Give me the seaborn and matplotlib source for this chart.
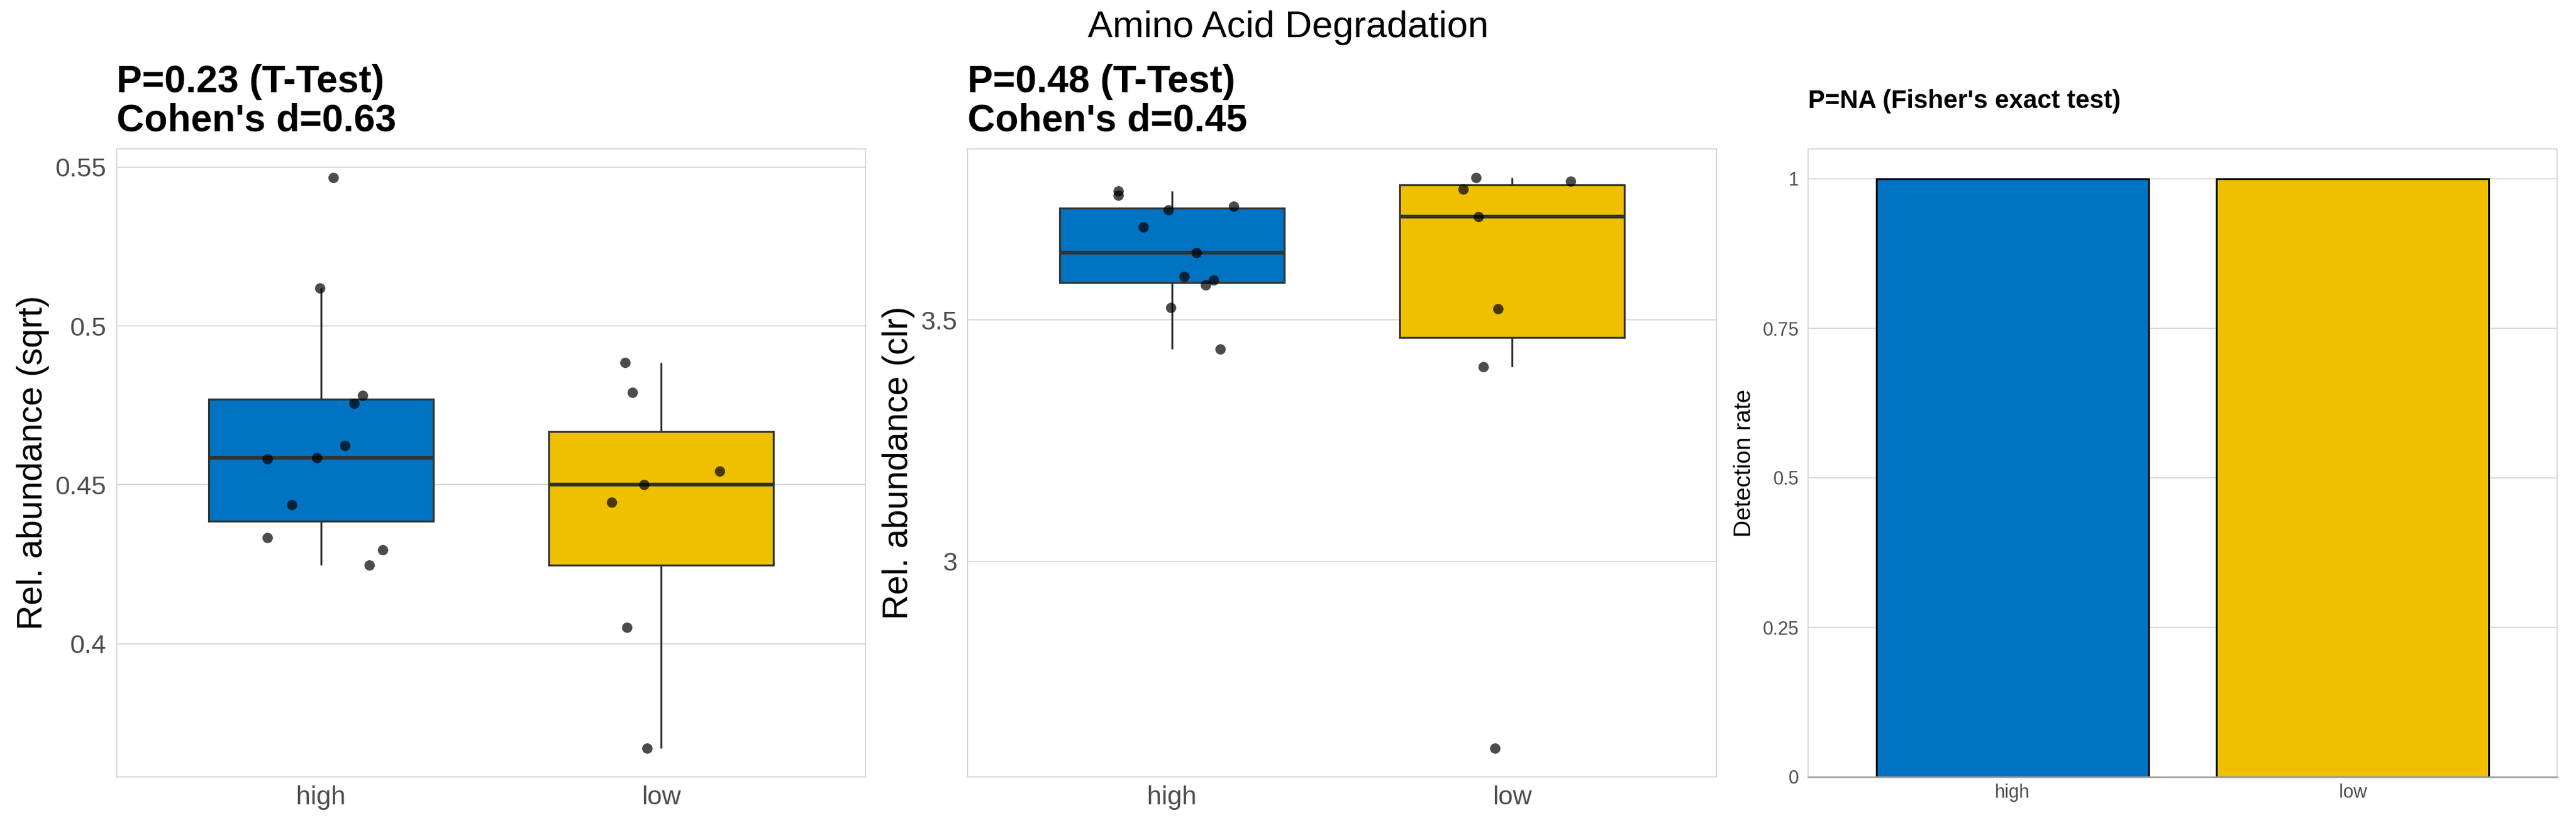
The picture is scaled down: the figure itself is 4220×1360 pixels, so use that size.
import matplotlib

matplotlib.use("Agg")
import matplotlib.pyplot as plt
import pandas as pd
import seaborn as sns


GROUPS = ["high", "low"]
GROUP_COLORS = ["#0073C2", "#EFC000"]

# per-sample values, with the jitter offset of each point
HIGH_SQRT = [0.5467, 0.5120, 0.4782, 0.4756, 0.4623, 0.4586, 0.4581, 0.4437, 0.4334, 0.4296, 0.4247]
HIGH_SQRT_JITTER = [0.036, -0.003, 0.123, 0.098, 0.071, -0.012, -0.158, -0.086, -0.158, 0.181, 0.143]
LOW_SQRT = [0.4884, 0.4791, 0.4543, 0.4500, 0.4445, 0.4051, 0.3671]
LOW_SQRT_JITTER = [-0.106, -0.085, 0.171, -0.051, -0.146, -0.101, -0.041]

HIGH_CLR = [3.767, 3.758, 3.7276, 3.7363, 3.6926, 3.640, 3.5897, 3.5821, 3.5722, 3.5252, 3.4398]
HIGH_CLR_JITTER = [-0.157, -0.157, -0.011, 0.181, -0.083, 0.072, 0.037, 0.122, 0.099, -0.003, 0.142]
LOW_CLR = [3.7954, 3.7878, 3.7713, 3.7144, 3.523, 3.4037, 2.6127]
LOW_CLR_JITTER = [-0.106, 0.171, -0.144, -0.099, -0.042, -0.085, -0.050]

DETECTION_RATE = [1.0, 1.0]

SUPTITLE = "Amino Acid Degradation"
TITLES = [
    "P=0.23 (T-Test)\nCohen's d=0.63",
    "P=0.48 (T-Test)\nCohen's d=0.45",
    "P=NA (Fisher's exact test)",
]
YLABELS = ["Rel. abundance (sqrt)", "Rel. abundance (clr)", "Detection rate"]

SQRT_TICKS = [0.4, 0.45, 0.5, 0.55]
SQRT_TICK_LABELS = ["0.4", "0.45", "0.5", "0.55"]
CLR_TICKS = [3.0, 3.5]
CLR_TICK_LABELS = ["3", "3.5"]
RATE_TICKS = [0, 0.25, 0.5, 0.75, 1]
RATE_TICK_LABELS = ["0", "0.25", "0.5", "0.75", "1"]

FIG_W, FIG_H = 4220, 1360
BORDER = "#D6D6D6"
TICK_GREY = "#4D4D4D"


def make_frame(high, high_jitter, low, low_jitter):
    df = pd.DataFrame(
        {
            "group": ["high"] * len(high) + ["low"] * len(low),
            "value": high + low,
            "jitter": high_jitter + low_jitter,
        }
    )
    df["xpos"] = df["group"].map({g: i for i, g in enumerate(GROUPS)}) + df["jitter"]
    return df


def style_axes(ax, ylabel, label_size, tick_size, pad_y, pad_x, labelpad):
    for spine in ax.spines.values():
        spine.set_visible(True)
        spine.set_color(BORDER)
        spine.set_linewidth(1.3)
    ax.grid(axis="y", color=BORDER, linewidth=1.3)
    ax.grid(axis="x", visible=False)
    ax.set_axisbelow(True)
    ax.tick_params(axis="both", length=0, labelsize=tick_size, colors=TICK_GREY)
    ax.tick_params(axis="y", pad=pad_y)
    ax.tick_params(axis="x", pad=pad_x)
    ax.set_xlabel("")
    ax.set_ylabel(ylabel, fontsize=label_size, color="black", labelpad=labelpad)
    ax.set_xlim(-0.6, 1.6)


def box_panel(ax, df, title, ylabel, ticks, tick_labels):
    sns.boxplot(
        data=df,
        x="group",
        y="value",
        hue="group",
        order=GROUPS,
        hue_order=GROUPS,
        palette=GROUP_COLORS,
        saturation=1,
        width=0.66,
        showfliers=False,
        linecolor="#333333",
        linewidth=2.3,
        medianprops={"linewidth": 4.4},
        capprops={"visible": False},
        legend=False,
        ax=ax,
    )
    sns.scatterplot(
        data=df,
        x="xpos",
        y="value",
        color="black",
        alpha=0.7,
        s=150,
        linewidth=0,
        zorder=4,
        legend=False,
        ax=ax,
    )
    lo, hi = df["value"].min(), df["value"].max()
    pad = 0.05 * (hi - lo)
    ax.set_ylim(lo - pad, hi + pad)
    ax.set_yticks(ticks)
    ax.set_yticklabels(tick_labels)
    ax.set_xticks(range(len(GROUPS)))
    ax.set_xticklabels(GROUPS)
    style_axes(ax, ylabel, label_size=41, tick_size=31, pad_y=12, pad_x=10, labelpad=7)
    ax.set_title(
        title, loc="left", fontsize=45, fontweight="bold", color="black", pad=21, linespacing=1.1
    )


def bar_panel(ax, title, ylabel):
    sns.barplot(
        x=GROUPS,
        y=DETECTION_RATE,
        hue=GROUPS,
        palette=GROUP_COLORS,
        saturation=1,
        width=0.8,
        edgecolor="black",
        linewidth=2.2,
        legend=False,
        ax=ax,
    )
    ax.set_ylim(0, 1.05)
    ax.set_yticks(RATE_TICKS)
    ax.set_yticklabels(RATE_TICK_LABELS)
    style_axes(ax, ylabel, label_size=28, tick_size=22, pad_y=11, pad_x=8, labelpad=8)
    ax.spines["bottom"].set_color("#A6A6A6")
    ax.spines["bottom"].set_linewidth(2)
    ax.set_title(title, loc="left", fontsize=30, fontweight="bold", color="black", pad=48)


def main():
    sns.set_theme(style="whitegrid")
    plt.rcParams["font.family"] = ["Liberation Sans", "DejaVu Sans"]

    fig = plt.figure(figsize=(FIG_W / 100, FIG_H / 100), dpi=100)
    top, bottom = 244, 1273
    lefts = [191, 1585, 2962]
    width = 1227
    axes = [
        fig.add_axes([x / FIG_W, 1 - bottom / FIG_H, width / FIG_W, (bottom - top) / FIG_H])
        for x in lefts
    ]

    sqrt_df = make_frame(HIGH_SQRT, HIGH_SQRT_JITTER, LOW_SQRT, LOW_SQRT_JITTER)
    clr_df = make_frame(HIGH_CLR, HIGH_CLR_JITTER, LOW_CLR, LOW_CLR_JITTER)

    box_panel(axes[0], sqrt_df, TITLES[0], YLABELS[0], SQRT_TICKS, SQRT_TICK_LABELS)
    box_panel(axes[1], clr_df, TITLES[1], YLABELS[1], CLR_TICKS, CLR_TICK_LABELS)
    bar_panel(axes[2], TITLES[2], YLABELS[2])

    fig.text(
        0.5, 1 - 61 / FIG_H, SUPTITLE, ha="center", va="baseline", fontsize=44, color="black"
    )

    fig.savefig("out.png", dpi=100)
    plt.close(fig)


if __name__ == "__main__":
    main()
